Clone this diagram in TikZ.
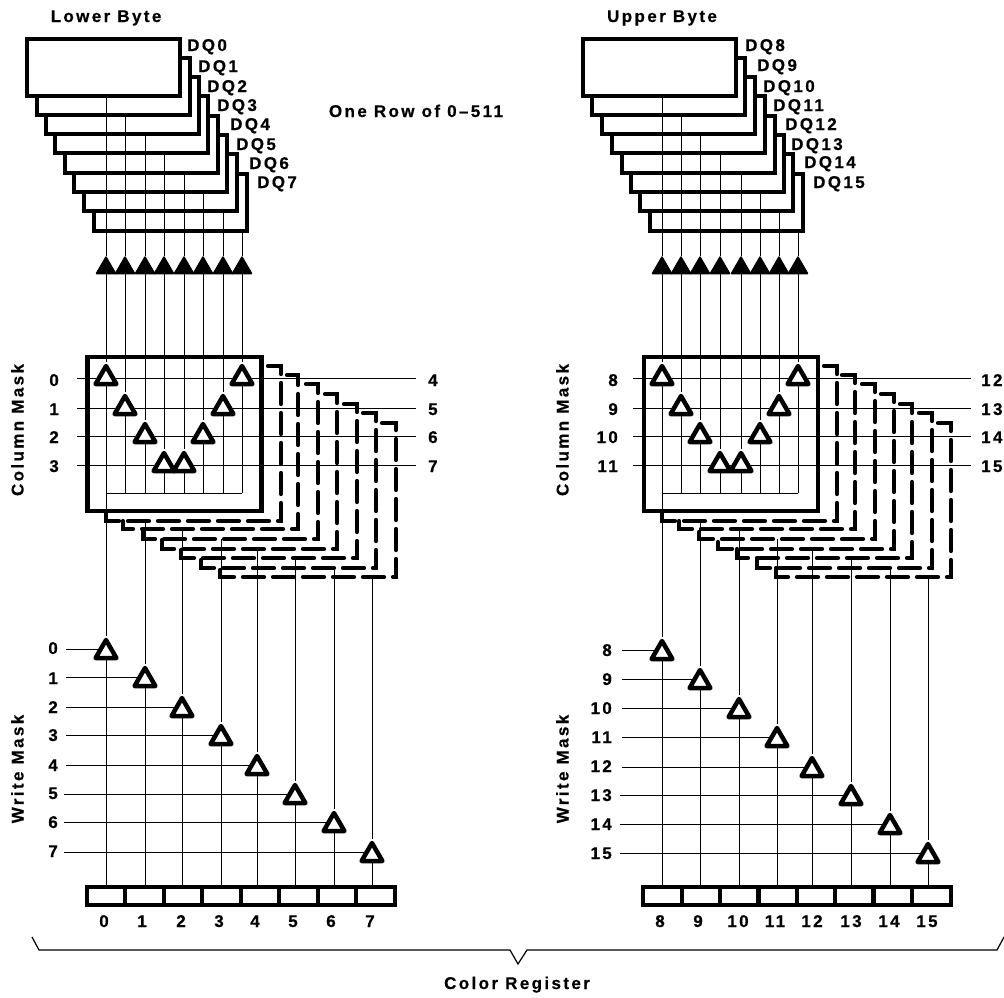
\documentclass[tikz,border=0pt]{standalone}
\usepackage{fontspec}
\setmainfont[LetterSpace=14,BoldFeatures={FakeBold=0.5}]{Liberation Sans}
\usetikzlibrary{shapes.geometric}
\begin{document}
\begin{tikzpicture}[x=1pt,y=-1pt]
	\tikzstyle{stackbox} = [draw, fill=white, line width=4.5, minimum width=153, minimum height=57, inner sep=0]
	\tikzstyle{maskbox} = [draw, fill=white, line width=4.5, minimum width=174, minimum height=154, inner sep=0]
	\tikzstyle{cell} = [draw, line width=4.2, minimum width=38.5, minimum height=18, inner sep=0]
	\tikzstyle{tri} = [regular polygon, regular polygon sides=3, draw, fill=white, line width=4.5, line join=round, minimum size=24, inner sep=0]
	\tikzstyle{tiptri} = [regular polygon, regular polygon sides=3, draw, fill=black, line width=1.5, line join=round, minimum size=22, inner sep=0]
	\tikzstyle{wire} = [line width=1]
	\tikzstyle{dashbox} = [line width=4.2, line cap=round, dash pattern=on 21 off 9]
	\tikzstyle{lbl} = [font=\bfseries\fontsize{17}{20}\selectfont, inner sep=0, text height=12, text depth=0]
	\useasboundingbox (0,0) rectangle (1004,997);
	\node [lbl] (t1) at (106,16) {Lower Byte};
	\node [lbl] (t2) at (662,16) {Upper Byte};
	\node [lbl] (t3) at (416,111) {One Row of 0\textendash 511};
	\node [lbl] (t4) at (517,983) {Color Register};
	\node [lbl,rotate=90] (t5) at (17.5,430) {Column Mask};
	\node [lbl,rotate=90] (t6) at (17.5,769) {Write Mask};
	\node [lbl,rotate=90] (t7) at (562.5,430) {Column Mask};
	\node [lbl,rotate=90] (t8) at (562.5,769) {Write Mask};
	\node [stackbox] (s7) at (170.5,202.5) {};
	\node [stackbox] (s6) at (160.5,182.5) {};
	\node [stackbox] (s5) at (150.5,163.5) {};
	\node [stackbox] (s4) at (141.5,144.5) {};
	\node [stackbox] (s3) at (131.5,124.5) {};
	\node [stackbox] (s2) at (122.5,105.5) {};
	\node [stackbox] (s1) at (113.5,86.5) {};
	\node [stackbox] (s0) at (103.5,67.5) {};
	\node [stackbox] (s15) at (726.5,202.5) {};
	\node [stackbox] (s14) at (716.5,182.5) {};
	\node [stackbox] (s13) at (707.5,163.5) {};
	\node [stackbox] (s12) at (698.5,144.5) {};
	\node [stackbox] (s11) at (688.5,124.5) {};
	\node [stackbox] (s10) at (678.5,105.5) {};
	\node [stackbox] (s9) at (668.5,86.5) {};
	\node [stackbox] (s8) at (659.5,67.5) {};
	\node [lbl,anchor=west] (q0) at (187,45) {DQ0};
	\node [lbl,anchor=west] (q1) at (198,66) {DQ1};
	\node [lbl,anchor=west] (q2) at (207,86) {DQ2};
	\node [lbl,anchor=west] (q3) at (217,105) {DQ3};
	\node [lbl,anchor=west] (q4) at (230,124) {DQ4};
	\node [lbl,anchor=west] (q5) at (236,144) {DQ5};
	\node [lbl,anchor=west] (q6) at (249,163) {DQ6};
	\node [lbl,anchor=west] (q7) at (257,182) {DQ7};
	\node [lbl,anchor=west] (q8) at (745,45) {DQ8};
	\node [lbl,anchor=west] (q9) at (757,65) {DQ9};
	\node [lbl,anchor=west] (q10) at (763,86) {DQ10};
	\node [lbl,anchor=west] (q11) at (773,105) {DQ11};
	\node [lbl,anchor=west] (q12) at (785,124) {DQ12};
	\node [lbl,anchor=west] (q13) at (791,144) {DQ13};
	\node [lbl,anchor=west] (q14) at (804,162) {DQ14};
	\node [lbl,anchor=west] (q15) at (813,182) {DQ15};
	\draw [dashbox] (382,423) -| (396,577) -| (220,568);
	\draw [dashbox] (363,413) -| (376,568) -| (201,558);
	\draw [dashbox] (344,404) -| (357,558) -| (181,549);
	\draw [dashbox] (325,394) -| (337,549) -| (162,539);
	\draw [dashbox] (306,384) -| (318,539) -| (143,529);
	\draw [dashbox] (287,375) -| (298,529) -| (123,521);
	\draw [dashbox] (268,366) -| (281,521) -| (106,512);
	\draw [dashbox] (938,423) -| (951,577) -| (776,568);
	\draw [dashbox] (919,413) -| (932,568) -| (757,558);
	\draw [dashbox] (900,404) -| (912,558) -| (737,549);
	\draw [dashbox] (881,394) -| (894,549) -| (718,539);
	\draw [dashbox] (862,384) -| (875,539) -| (699,529);
	\draw [dashbox] (842,375) -| (855,529) -| (679,521);
	\draw [dashbox] (824,366) -| (837,521) -| (662,512);
	\node [maskbox] (m0) at (174.5,434) {};
	\node [maskbox] (m1) at (731,434) {};
	\node [tiptri] (a0) at (106,268) {};
	\node [tiptri] (a1) at (125,268) {};
	\node [tiptri] (a2) at (145,268) {};
	\node [tiptri] (a3) at (164,268) {};
	\node [tiptri] (a4) at (184,268) {};
	\node [tiptri] (a5) at (203,268) {};
	\node [tiptri] (a6) at (223,268) {};
	\node [tiptri] (a7) at (242,268) {};
	\node [tiptri] (a8) at (662,268) {};
	\node [tiptri] (a9) at (681,268) {};
	\node [tiptri] (a10) at (700,268) {};
	\node [tiptri] (a11) at (720,268) {};
	\node [tiptri] (a12) at (741,268) {};
	\node [tiptri] (a13) at (760,268) {};
	\node [tiptri] (a14) at (779,268) {};
	\node [tiptri] (a15) at (798,268) {};
	\node [tri] (c0) at (106,378) {};
	\node [tri] (c1) at (125,408) {};
	\node [tri] (c2) at (145,436) {};
	\node [tri] (c3) at (164,465) {};
	\node [tri] (c4) at (184,465) {};
	\node [tri] (c5) at (203,436) {};
	\node [tri] (c6) at (223,408) {};
	\node [tri] (c7) at (242,378) {};
	\node [tri] (c8) at (662,378) {};
	\node [tri] (c9) at (681,408) {};
	\node [tri] (c10) at (700,436) {};
	\node [tri] (c11) at (720,465) {};
	\node [tri] (c12) at (741,465) {};
	\node [tri] (c13) at (760,436) {};
	\node [tri] (c14) at (779,408) {};
	\node [tri] (c15) at (798,378) {};
	\coordinate (b0) at (106,493);
	\coordinate (b1) at (125,493);
	\coordinate (b2) at (145,493);
	\coordinate (b3) at (164,493);
	\coordinate (b4) at (184,493);
	\coordinate (b5) at (203,493);
	\coordinate (b6) at (223,493);
	\coordinate (b7) at (242,493);
	\coordinate (b8) at (662,493);
	\coordinate (b9) at (681,493);
	\coordinate (b10) at (700,493);
	\coordinate (b11) at (720,493);
	\coordinate (b12) at (741,493);
	\coordinate (b13) at (760,493);
	\coordinate (b14) at (779,493);
	\coordinate (b15) at (798,493);
	\draw [wire] (a0 |- s0.south) -- (a0);
	\draw [wire] (a1 |- s1.south) -- (a1);
	\draw [wire] (a2 |- s2.south) -- (a2);
	\draw [wire] (a3 |- s3.south) -- (a3);
	\draw [wire] (a4 |- s4.south) -- (a4);
	\draw [wire] (a5 |- s5.south) -- (a5);
	\draw [wire] (a6 |- s6.south) -- (a6);
	\draw [wire] (a7 |- s7.south) -- (a7);
	\draw [wire] (a8 |- s8.south) -- (a8);
	\draw [wire] (a9 |- s9.south) -- (a9);
	\draw [wire] (a10 |- s10.south) -- (a10);
	\draw [wire] (a11 |- s11.south) -- (a11);
	\draw [wire] (a12 |- s12.south) -- (a12);
	\draw [wire] (a13 |- s13.south) -- (a13);
	\draw [wire] (a14 |- s14.south) -- (a14);
	\draw [wire] (a15 |- s15.south) -- (a15);
	\draw [wire] (a0) -- (c0);
	\draw [wire] (a1) -- (c1);
	\draw [wire] (a2) -- (c2);
	\draw [wire] (a3) -- (c3);
	\draw [wire] (a4) -- (c4);
	\draw [wire] (a5) -- (c5);
	\draw [wire] (a6) -- (c6);
	\draw [wire] (a7) -- (c7);
	\draw [wire] (a8) -- (c8);
	\draw [wire] (a9) -- (c9);
	\draw [wire] (a10) -- (c10);
	\draw [wire] (a11) -- (c11);
	\draw [wire] (a12) -- (c12);
	\draw [wire] (a13) -- (c13);
	\draw [wire] (a14) -- (c14);
	\draw [wire] (a15) -- (c15);
	\draw [wire] (c0) -- (b0);
	\draw [wire] (c1) -- (b1);
	\draw [wire] (c2) -- (b2);
	\draw [wire] (c3) -- (b3);
	\draw [wire] (c4) -- (b4);
	\draw [wire] (c5) -- (b5);
	\draw [wire] (c6) -- (b6);
	\draw [wire] (c7) -- (b7);
	\draw [wire] (c8) -- (b8);
	\draw [wire] (c9) -- (b9);
	\draw [wire] (c10) -- (b10);
	\draw [wire] (c11) -- (b11);
	\draw [wire] (c12) -- (b12);
	\draw [wire] (c13) -- (b13);
	\draw [wire] (c14) -- (b14);
	\draw [wire] (c15) -- (b15);
	\draw [wire] (b0) -- (b7);
	\draw [wire] (b8) -- (b15);
	\coordinate (l0) at (77,378);
	\coordinate (l1) at (77,408);
	\coordinate (l2) at (77,436);
	\coordinate (l3) at (77,465);
	\coordinate (e0) at (416,378);
	\coordinate (e1) at (416,408);
	\coordinate (e2) at (416,436);
	\coordinate (e3) at (416,465);
	\coordinate (l4) at (633,378);
	\coordinate (l5) at (633,408);
	\coordinate (l6) at (633,436);
	\coordinate (l7) at (633,465);
	\coordinate (e4) at (971,378);
	\coordinate (e5) at (971,408);
	\coordinate (e6) at (971,436);
	\coordinate (e7) at (971,465);
	\draw [wire] (l0) -- (c0);
	\draw [wire] (c0) -- (c7);
	\draw [wire] (c7) -- (e0);
	\draw [wire] (l1) -- (c1);
	\draw [wire] (c1) -- (c6);
	\draw [wire] (c6) -- (e1);
	\draw [wire] (l2) -- (c2);
	\draw [wire] (c2) -- (c5);
	\draw [wire] (c5) -- (e2);
	\draw [wire] (l3) -- (c3);
	\draw [wire] (c3) -- (c4);
	\draw [wire] (c4) -- (e3);
	\draw [wire] (l4) -- (c8);
	\draw [wire] (c8) -- (c15);
	\draw [wire] (c15) -- (e4);
	\draw [wire] (l5) -- (c9);
	\draw [wire] (c9) -- (c14);
	\draw [wire] (c14) -- (e5);
	\draw [wire] (l6) -- (c10);
	\draw [wire] (c10) -- (c13);
	\draw [wire] (c13) -- (e6);
	\draw [wire] (l7) -- (c11);
	\draw [wire] (c11) -- (c12);
	\draw [wire] (c12) -- (e7);
	\node [lbl,anchor=east] (n0) at (59,380) {0};
	\node [lbl,anchor=east] (n1) at (59,409) {1};
	\node [lbl,anchor=east] (n2) at (59,437) {2};
	\node [lbl,anchor=east] (n3) at (59,466) {3};
	\node [lbl,anchor=west] (n4) at (428,380) {4};
	\node [lbl,anchor=west] (n5) at (428,409) {5};
	\node [lbl,anchor=west] (n6) at (428,437) {6};
	\node [lbl,anchor=west] (n7) at (428,466) {7};
	\node [lbl,anchor=east] (n8) at (618,380) {8};
	\node [lbl,anchor=east] (n9) at (618,409) {9};
	\node [lbl,anchor=east] (n10) at (618,437) {10};
	\node [lbl,anchor=east] (n11) at (618,466) {11};
	\node [lbl,anchor=west] (n12) at (981,380) {12};
	\node [lbl,anchor=west] (n13) at (981,409) {13};
	\node [lbl,anchor=west] (n14) at (981,437) {14};
	\node [lbl,anchor=west] (n15) at (981,466) {15};
	\node [tri] (w0) at (106,652) {};
	\node [tri] (w1) at (145,680) {};
	\node [tri] (w2) at (182,710) {};
	\node [tri] (w3) at (221,738) {};
	\node [tri] (w4) at (257,768) {};
	\node [tri] (w5) at (295,797) {};
	\node [tri] (w6) at (334,825) {};
	\node [tri] (w7) at (372,855) {};
	\node [tri] (w8) at (662,653) {};
	\node [tri] (w9) at (700,682) {};
	\node [tri] (w10) at (739,711) {};
	\node [tri] (w11) at (777,740) {};
	\node [tri] (w12) at (812,770) {};
	\node [tri] (w13) at (851,798) {};
	\node [tri] (w14) at (890,827) {};
	\node [tri] (w15) at (928,856) {};
	\coordinate (d1) at (145,521);
	\coordinate (d2) at (182,529);
	\coordinate (d3) at (221,539);
	\coordinate (d4) at (257,549);
	\coordinate (d5) at (295,558);
	\coordinate (d6) at (334,568);
	\coordinate (d7) at (372,577);
	\coordinate (d9) at (700,521);
	\coordinate (d10) at (739,529);
	\coordinate (d11) at (777,539);
	\coordinate (d12) at (812,549);
	\coordinate (d13) at (851,558);
	\coordinate (d14) at (890,568);
	\coordinate (d15) at (928,577);
	\draw [wire] (b0) -- (w0);
	\draw [wire] (d1) -- (w1);
	\draw [wire] (d2) -- (w2);
	\draw [wire] (d3) -- (w3);
	\draw [wire] (d4) -- (w4);
	\draw [wire] (d5) -- (w5);
	\draw [wire] (d6) -- (w6);
	\draw [wire] (d7) -- (w7);
	\draw [wire] (b8) -- (w8);
	\draw [wire] (d9) -- (w9);
	\draw [wire] (d10) -- (w10);
	\draw [wire] (d11) -- (w11);
	\draw [wire] (d12) -- (w12);
	\draw [wire] (d13) -- (w13);
	\draw [wire] (d14) -- (w14);
	\draw [wire] (d15) -- (w15);
	\coordinate (y0) at (66,649);
	\coordinate (y1) at (66,677);
	\coordinate (y2) at (66,707);
	\coordinate (y3) at (66,735);
	\coordinate (y4) at (66,765);
	\coordinate (y5) at (64,794);
	\coordinate (y6) at (64,822);
	\coordinate (y7) at (64,852);
	\coordinate (y8) at (622,650);
	\coordinate (y9) at (622,679);
	\coordinate (y10) at (622,708);
	\coordinate (y11) at (622,737);
	\coordinate (y12) at (622,767);
	\coordinate (y13) at (620,795);
	\coordinate (y14) at (620,824);
	\coordinate (y15) at (620,853);
	\draw [wire] (y0) -- (y0 -| w0.side 1);
	\draw [wire] (y1) -- (y1 -| w1.side 1);
	\draw [wire] (y2) -- (y2 -| w2.side 1);
	\draw [wire] (y3) -- (y3 -| w3.side 1);
	\draw [wire] (y4) -- (y4 -| w4.side 1);
	\draw [wire] (y5) -- (y5 -| w5.side 1);
	\draw [wire] (y6) -- (y6 -| w6.side 1);
	\draw [wire] (y7) -- (y7 -| w7.side 1);
	\draw [wire] (y8) -- (y8 -| w8.side 1);
	\draw [wire] (y9) -- (y9 -| w9.side 1);
	\draw [wire] (y10) -- (y10 -| w10.side 1);
	\draw [wire] (y11) -- (y11 -| w11.side 1);
	\draw [wire] (y12) -- (y12 -| w12.side 1);
	\draw [wire] (y13) -- (y13 -| w13.side 1);
	\draw [wire] (y14) -- (y14 -| w14.side 1);
	\draw [wire] (y15) -- (y15 -| w15.side 1);
	\node [lbl,anchor=east] (p0) at (58,648) {0};
	\node [lbl,anchor=east] (p1) at (58,678) {1};
	\node [lbl,anchor=east] (p2) at (58,707) {2};
	\node [lbl,anchor=east] (p3) at (58,735) {3};
	\node [lbl,anchor=east] (p4) at (58,765) {4};
	\node [lbl,anchor=east] (p5) at (58,793) {5};
	\node [lbl,anchor=east] (p6) at (58,822) {6};
	\node [lbl,anchor=east] (p7) at (58,851) {7};
	\node [lbl,anchor=east] (p8) at (612,650) {8};
	\node [lbl,anchor=east] (p9) at (612,679) {9};
	\node [lbl,anchor=east] (p10) at (612,708) {10};
	\node [lbl,anchor=east] (p11) at (612,737) {11};
	\node [lbl,anchor=east] (p12) at (612,766) {12};
	\node [lbl,anchor=east] (p13) at (612,795) {13};
	\node [lbl,anchor=east] (p14) at (612,824) {14};
	\node [lbl,anchor=east] (p15) at (612,853) {15};
	\node [cell] (r0) at (106,896) {};
	\node [cell] (r1) at (144.5,896) {};
	\node [cell] (r2) at (183,896) {};
	\node [cell] (r3) at (221.5,896) {};
	\node [cell] (r4) at (260,896) {};
	\node [cell] (r5) at (298.5,896) {};
	\node [cell] (r6) at (337,896) {};
	\node [cell] (r7) at (375.5,896) {};
	\node [cell] (r8) at (662.5,896) {};
	\node [cell] (r9) at (701,896) {};
	\node [cell] (r10) at (739.5,896) {};
	\node [cell] (r11) at (777.5,896) {};
	\node [cell] (r12) at (816,896) {};
	\node [cell] (r13) at (854,896) {};
	\node [cell] (r14) at (893,896) {};
	\node [cell] (r15) at (931.5,896) {};
	\draw [wire] (w0) -- (w0 |- r0.north);
	\draw [wire] (w1) -- (w1 |- r1.north);
	\draw [wire] (w2) -- (w2 |- r2.north);
	\draw [wire] (w3) -- (w3 |- r3.north);
	\draw [wire] (w4) -- (w4 |- r4.north);
	\draw [wire] (w5) -- (w5 |- r5.north);
	\draw [wire] (w6) -- (w6 |- r6.north);
	\draw [wire] (w7) -- (w7 |- r7.north);
	\draw [wire] (w8) -- (w8 |- r8.north);
	\draw [wire] (w9) -- (w9 |- r9.north);
	\draw [wire] (w10) -- (w10 |- r10.north);
	\draw [wire] (w11) -- (w11 |- r11.north);
	\draw [wire] (w12) -- (w12 |- r12.north);
	\draw [wire] (w13) -- (w13 |- r13.north);
	\draw [wire] (w14) -- (w14 |- r14.north);
	\draw [wire] (w15) -- (w15 |- r15.north);
	\node [lbl] (g0) at (104,921) {0};
	\node [lbl] (g1) at (142,921) {1};
	\node [lbl] (g2) at (181,921) {2};
	\node [lbl] (g3) at (219,921) {3};
	\node [lbl] (g4) at (255,921) {4};
	\node [lbl] (g5) at (293,921) {5};
	\node [lbl] (g6) at (331,921) {6};
	\node [lbl] (g7) at (370,921) {7};
	\node [lbl] (g8) at (660,921) {8};
	\node [lbl] (g9) at (698,921) {9};
	\node [lbl] (g10) at (738,921) {10};
	\node [lbl] (g11) at (775,921) {11};
	\node [lbl] (g12) at (812,921) {12};
	\node [lbl] (g13) at (851,921) {13};
	\node [lbl] (g14) at (889,921) {14};
	\node [lbl] (g15) at (927,921) {15};
	\draw [line width=1.2] (32,937) -- (39,950) -- (510,950) -- (518,964) -- (527,950) -- (997,950) -- (1004,937);
\end{tikzpicture}
\end{document}
